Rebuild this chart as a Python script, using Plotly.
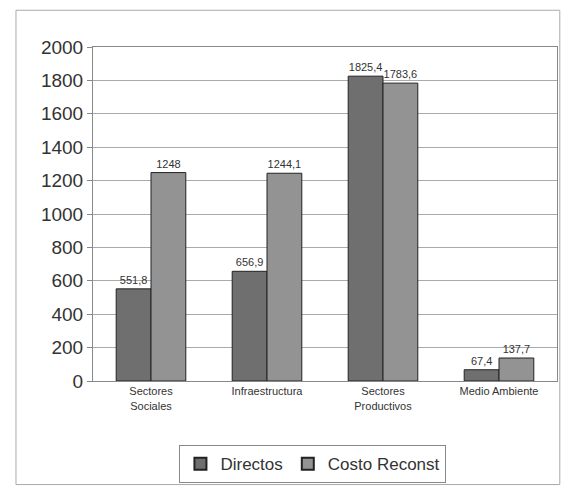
import plotly.graph_objects as go

categories = ["Sectores<br>Sociales", "Infraestructura", "Sectores<br>Productivos", "Medio Ambiente"]
directos = [551.8, 656.9, 1825.4, 67.4]
costo_reconst = [1248, 1244.1, 1783.6, 137.7]
y_ticks = [0, 200, 400, 600, 800, 1000, 1200, 1400, 1600, 1800, 2000]

def fmt(v):
    s = ("%g" % v)
    return s.replace(".", ",")

fig = go.Figure()
fig.add_trace(go.Bar(
    name="Directos", x=categories, y=directos,
    text=[fmt(v) for v in directos], textposition="outside",
    textfont=dict(size=11, color="#333333", family="Liberation Sans"),
    marker=dict(color="#6f6f6f", line=dict(color="#222222", width=1)),
    cliponaxis=False,
))
fig.add_trace(go.Bar(
    name="Costo Reconst", x=categories, y=costo_reconst,
    text=[fmt(v) for v in costo_reconst], textposition="outside",
    textfont=dict(size=11, color="#333333", family="Liberation Sans"),
    marker=dict(color="#939393", line=dict(color="#222222", width=1)),
    cliponaxis=False,
))

fig.update_layout(
    width=561, height=487,
    margin=dict(l=93, r=4, t=47, b=106),
    paper_bgcolor="white", plot_bgcolor="white",
    barmode="group", bargap=0.4, bargroupgap=0,
    font=dict(family="Liberation Sans", color="#333333"),
    showlegend=True,
    legend=dict(
        orientation="h", x=0.474, y=-0.249, xanchor="center", yanchor="middle",
        bordercolor="#888888", borderwidth=1, bgcolor="white",
        font=dict(size=17, color="#333333"),
        itemsizing="constant", traceorder="normal",
        itemwidth=30,
    ),
    xaxis=dict(
        showline=True, linecolor="#888888", linewidth=1, mirror=True,
        tickfont=dict(size=11, color="#333333"),
        ticks="", showgrid=False,
    ),
    yaxis=dict(
        range=[0, 2000], tickvals=y_ticks,
        tickfont=dict(size=19, color="#333333"),
        showline=True, linecolor="#888888", linewidth=1, mirror=True,
        ticks="outside", ticklen=5, tickcolor="#888888",
        gridcolor="#aaaaaa", gridwidth=1,
        zeroline=False,
    ),
    shapes=[dict(
        type="rect", xref="paper", yref="paper",
        x0=-0.166, x1=1.006, y0=-0.31, y1=1.11,
        line=dict(color="#aaaaaa", width=1), fillcolor="rgba(0,0,0,0)",
        layer="below",
    )],
)

fig.write_html("out.html")
